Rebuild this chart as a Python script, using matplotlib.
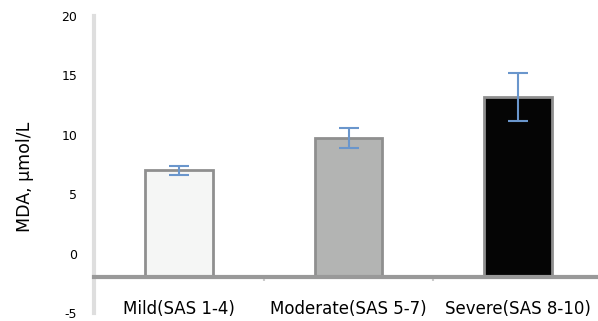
import matplotlib
matplotlib.use("Agg")
import matplotlib.pyplot as plt
from matplotlib.ticker import FixedLocator
import numpy as np

categories = ["Mild(SAS 1-4)", "Moderate(SAS 5-7)", "Severe(SAS 8-10)"]
values = [7.0, 9.7, 13.2]
errors = [0.4, 0.85, 2.0]
bar_colors = ["#f5f6f5", "#b3b4b3", "#050505"]
yticks = [20, 15, 10, 5, 0, -5]
ylabel = "MDA, μmol/L"
baseline = -2

fig = plt.figure(figsize=(5.98, 3.21), dpi=100)
ax = fig.add_axes([94/598, 1 - 313/321, 1 - 94/598, (313 - 16)/321])

x = np.arange(len(categories))
vals = np.array(values)
ax.bar(x, vals - baseline, bottom=baseline, width=0.4, color=bar_colors,
       edgecolor="#8f8f8f", linewidth=2, zorder=2)
ax.errorbar(x, vals, yerr=errors, fmt="none", ecolor="#6a96cc",
            elinewidth=1.5, capsize=7.5, capthick=1.5, zorder=3)

ax.set_xlim(-0.5, 2.47)
ax.set_ylim(-5, 20)

for s in ["top", "right"]:
    ax.spines[s].set_visible(False)
ax.spines["left"].set_color("#dedede")
ax.spines["left"].set_linewidth(3)
ax.spines["bottom"].set_position(("data", baseline))
ax.spines["bottom"].set_color("#999999")
ax.spines["bottom"].set_linewidth(3)

ax.set_yticks(yticks)
ax.set_yticklabels([str(t) for t in yticks], fontsize=9)
ax.yaxis.set_minor_locator(FixedLocator([20, 5, -5]))
ax.tick_params(axis="y", which="major", length=0, pad=12)
ax.tick_params(axis="y", which="minor", length=5, width=2, color="#999999")

ax.set_xticks(x)
ax.set_xticklabels(categories, fontsize=12)
ax.xaxis.set_minor_locator(FixedLocator([0.5, 1.5]))
ax.tick_params(axis="x", which="major", length=0, pad=16)
ax.tick_params(axis="x", which="minor", length=3, width=1.5, color="#cccccc")

ax.set_ylabel(ylabel, fontsize=12.5)
ax.yaxis.set_label_coords(-0.12, 0.46)

fig.savefig("out.png", dpi=100)
